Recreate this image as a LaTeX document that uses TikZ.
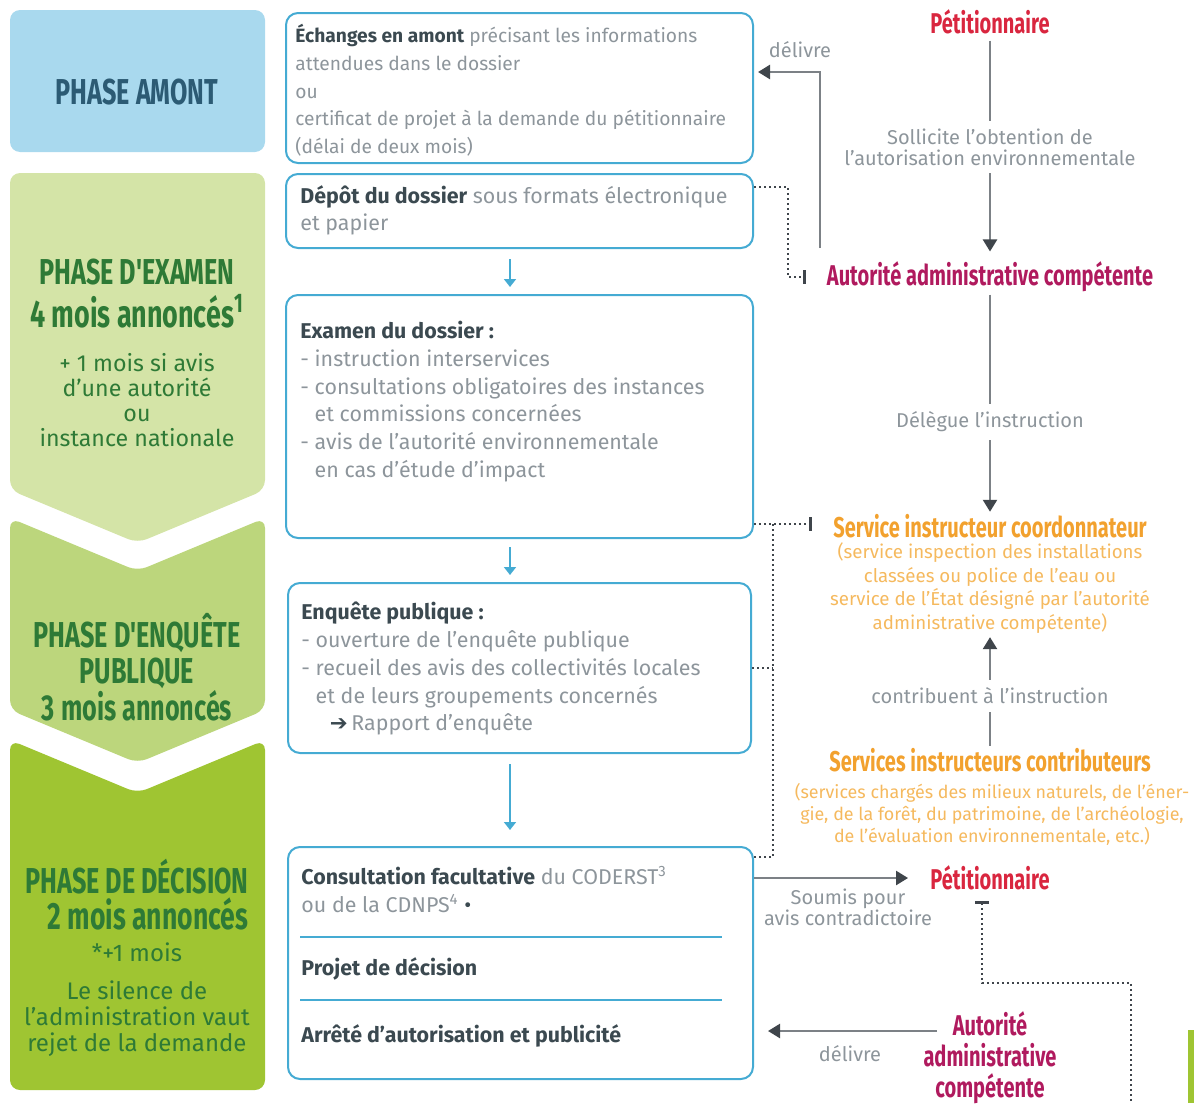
\documentclass[tikz,border=0pt]{standalone}
\usepackage{fontspec}
\setmainfont{Fira Sans}
\newfontfamily\condfont{Fira Sans}[FakeStretch=0.7]
\newfontfamily\symfont{DejaVu Sans}
\usetikzlibrary{positioning}
\usetikzlibrary{arrows.meta}
\definecolor{amontblue}{HTML}{A9D9EE}
\definecolor{amonttext}{HTML}{2C5B74}
\definecolor{greenA}{HTML}{D4E4A7}
\definecolor{greenB}{HTML}{BCD67C}
\definecolor{greenC}{HTML}{9FC532}
\definecolor{phasegreen}{HTML}{2E7A36}
\definecolor{boxblue}{HTML}{45ABD3}
\definecolor{txtdark}{HTML}{3B4950}
\definecolor{txtgray}{HTML}{8D959B}
\definecolor{linegray}{HTML}{7C8186}
\definecolor{tipdark}{HTML}{3F454B}
\definecolor{petred}{HTML}{D9263F}
\definecolor{authmag}{HTML}{B01A5E}
\definecolor{orangeA}{HTML}{F2A12E}
\definecolor{orangeB}{HTML}{F5B95E}
\newcommand{\hd}[1]{{\bfseries\color{txtdark}#1}}
\tikzset{
    phasetitle/.style={
        font=\condfont\bfseries\fontsize{18}{18.25}\selectfont,
        text=phasegreen, align=center, inner sep=0pt
    },
    phasenote/.style={
        font=\fontsize{11.6}{12.5}\selectfont,
        text=phasegreen, align=center, inner sep=0pt
    },
    stepbox/.style={
        draw=boxblue, line width=1pt, rounded corners=6pt,
        anchor=north west, inner sep=0pt, minimum width=233.5pt
    },
    boxtext/.style={
        anchor=north west, align=left, inner sep=0pt,
        text=txtgray, font=\fontsize{10.7}{13.85}\selectfont
    },
    actor/.style={
        font=\condfont\bfseries\fontsize{14.3}{15.5}\selectfont,
        align=center, inner sep=1pt
    },
    conn label/.style={
        font=\fontsize{10}{10.5}\selectfont,
        text=txtgray, align=center, inner sep=2pt, outer sep=2pt
    },
    conn/.style={
        draw=linegray, line width=1.2pt,
        >={Triangle[length=6pt, width=7pt, color=tipdark]}
    },
    dots/.style={
        draw=tipdark, line width=0.9pt, dash pattern=on 0.9pt off 1.6pt
    },
    flow/.style={
        draw=boxblue, line width=0.9pt,
        -{Triangle[length=4pt, width=6pt]}
    }
}

\begin{document}
\begin{tikzpicture}[x=0.5pt, y=-0.5pt]
    \useasboundingbox (0,0) rectangle (1194,1103);

    \fill[amontblue, rounded corners=5pt] (10,10) rectangle (265,152);
    \fill[greenA, rounded corners=5pt] (10,173) -- (265,173) -- (265,490) -- (137.5,543) -- (10,490) -- cycle;
    \fill[greenB, rounded corners=5pt] (10,518) -- (137.5,571) -- (265,518) -- (265,710) -- (137.5,763) -- (10,710) -- cycle;
    \fill[greenC, rounded corners=5pt] (10,740) -- (137.5,793) -- (265,740) -- (265,1090) -- (10,1090) -- cycle;
    \fill[greenC] (1188,1030) rectangle (1194,1103);

    \node[phasetitle, text=amonttext] (pamont) at (137,92) {PHASE AMONT};
    \node[phasetitle] (pexam) at (137,272) {PHASE D'EXAMEN};
    \node[phasetitle, font=\condfont\bfseries\fontsize{19.2}{19}\selectfont] (pexamdur) at (137,311) {4 mois annoncés\textsuperscript{1}};
    \node[phasenote] (pexamnote) at (137,400) {+ 1 mois si avis\\d'une autorité\\ou\\instance nationale};
    \node[phasetitle] (penq) at (137,667) {PHASE D'ENQUÊTE\\PUBLIQUE\\3 mois annoncés};
    \node[phasetitle] (pdec) at (137,877) {PHASE DE DÉCISION};
    \node[phasetitle, font=\condfont\bfseries\fontsize{19}{19}\selectfont] (pdecdur) at (148,914) {2 mois annoncés};
    \node[phasenote, font=\fontsize{12}{13}\selectfont] (pdecplus) at (137,952) {*+1 mois};
    \node[phasenote, font=\fontsize{12}{13}\selectfont] (pdecnote) at (137,1019) {Le silence de\\l'administration vaut\\rejet de la demande};

    \node[stepbox, minimum height=75pt] (echanges) at (285,12) {};
    \node[stepbox, minimum height=37pt] (depot) at (285,173) {};
    \node[stepbox, minimum height=121.5pt] (examen) at (285,294) {};
    \node[stepbox, minimum width=231.5pt, minimum height=85pt] (enquete) at (287,582) {};
    \node[stepbox, minimum width=232.5pt, minimum height=116pt] (decision) at (287,846) {};
    \draw[boxblue, line width=1pt] (300,937) -- (722,937);
    \draw[boxblue, line width=1pt] (300,1000) -- (722,1000);

    \node[boxtext, font=\fontsize{9.6}{13.85}\selectfont] (echtext) at (295,24) {\hd{Échanges en amont} précisant les informations\\attendues dans le dossier\\ou\\certificat de projet à la demande du pétitionnaire\\(délai de deux mois)};
    \node[boxtext] (deptext) at (300,185) {\hd{Dépôt du dossier} sous formats électronique\\et papier};
    \node[boxtext] (examtext) at (300,321) {\hd{Examen du dossier :}\\- instruction interservices\\- consultations obligatoires des instances\\\phantom{- }et commissions concernées\\- avis de l'autorité environnementale\\\phantom{- }en cas d'étude d'impact};
    \node[boxtext] (enqtext) at (301,602) {\hd{Enquête publique :}\\- ouverture de l'enquête publique\\- recueil des avis des collectivités locales\\\phantom{- }et de leurs groupements concernés\\\phantom{- }\phantom{- }{\symfont\bfseries\color{txtdark}➔}\,Rapport d'enquête};
    \node[boxtext] (dectext) at (301,866) {\hd{Consultation facultative} du CODERST\textsuperscript{3}\\ou de la CDNPS\textsuperscript{4} {\color{txtdark}•}};
    \node[boxtext] (projtext) at (301,957) {\hd{Projet de décision}};
    \node[boxtext] (arrtext) at (301,1024) {\hd{Arrêté d'autorisation et publicité}};

    \coordinate (fx) at (510,0);
    \draw[flow, shorten <=5pt, shorten >=3.5pt] (depot.south -| fx) -- (examen.north -| fx);
    \draw[flow, shorten <=4pt, shorten >=3.5pt] (examen.south -| fx) -- (enquete.north -| fx);
    \draw[flow, shorten <=5pt, shorten >=8pt] (enquete.south -| fx) -- (decision.north -| fx);

    \node[actor, text=petred] (pet1) at (990,22) {Pétitionnaire};
    \node[conn label] (sollicite) at (990,147) {Sollicite l'obtention de\\l'autorisation environnementale};
    \node[actor, text=authmag] (auth1) at (990,277) {Autorité administrative compétente};
    \node[conn label] (delegue) at (990,422) {Délègue l'instruction};
    \node[actor, text=orangeA] (coord) at (990,526) {Service instructeur coordonnateur};
    \node[conn label, text=orangeB, font=\fontsize{9.35}{11.75}\selectfont, outer sep=0pt] (coordesc) at (990,588) {(service inspection des installations\\classées ou police de l'eau ou\\service de l'État désigné par l'autorité\\administrative compétente)};
    \node[conn label] (contribuent) at (990,696) {contribuent à l'instruction};
    \node[actor, text=orangeA] (contrib) at (990,760) {Services instructeurs contributeurs};
    \node[conn label, text=orangeB, font=\fontsize{8.95}{11}\selectfont] (contribdesc) at (992,814) {(services chargés des milieux naturels, de l'éner-\\gie, de la forêt, du patrimoine, de l'archéologie,\\de l'évaluation environnementale, etc.)};
    \node[actor, text=petred] (pet2) at (990,878) {Pétitionnaire};
    \node[conn label] (soumis) at (848,907) {Soumis pour\\avis contradictoire};
    \node[actor, text=authmag] (auth2) at (990,1058) {Autorité\\administrative\\compétente};
    \node[conn label] (delivre1) at (800,50) {délivre};
    \node[conn label] (delivre2) at (850,1054) {délivre};

    \draw[conn, shorten <=2pt] (pet1) -- (sollicite);
    \draw[conn, ->, shorten >=4pt] (sollicite) -- (auth1);
    \draw[conn] (auth1) -- (delegue);
    \draw[conn, ->] (delegue) -- (coord);
    \draw[conn, ->] (contribuent) -- (coordesc);
    \draw[conn] (contrib) -- (contribuent);

    \coordinate (d1) at (820,248);
    \coordinate (d2) at (820,72);
    \draw[conn, ->, shorten >=2pt] (d1) -- (d2) -- (echanges.east |- d2);
    \coordinate (a2) at (937,1031);
    \draw[conn, ->, shorten >=7pt] (a2) -- (decision.east |- a2);
    \draw[conn, ->, shorten >=10pt] (decision.east |- pet2) -- (pet2.west);

    \coordinate (k1) at (788,187);
    \coordinate (k2) at (806,277);
    \draw[dots, -{Bar[width=7pt, line width=1.3pt, color=tipdark]}] (depot.east |- k1) -- (k1) |- (k2);
    \coordinate (k3) at (812,524);
    \coordinate (k4) at (773,857);
    \draw[dots, -{Bar[width=7pt, line width=1.3pt, color=tipdark]}] (examen.east |- k3) -- (k3);
    \draw[dots] (k4 |- k3) -- (k4) -- (decision.east |- k4);
    \draw[dots] (enquete.east) -- (enquete.east -| k4);

    \coordinate (p1) at (982,901);
    \coordinate (p2) at (1131,983);
    \coordinate (p3) at (1131,1103);
    \draw[dots, {Bar[width=7pt, line width=1.3pt, color=tipdark]}-] (p1) -- (p1 |- p2) -- (p2) -- (p3);
\end{tikzpicture}
\end{document}
